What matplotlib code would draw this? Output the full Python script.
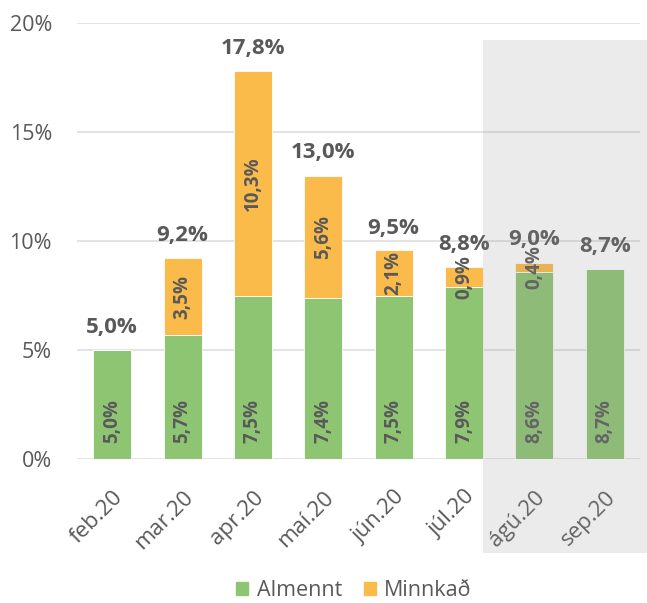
import numpy as np
import matplotlib.pyplot as plt
from matplotlib.patches import Rectangle, Patch

plt.rcParams['font.family'] = ['Open Sans', 'DejaVu Sans']

# gögn
months = ["feb.20", "mar.20", "apr.20", "maí.20", "jún.20", "júl.20", "ágú.20", "sep.20"]
almennt = [5.0, 5.7, 7.5, 7.4, 7.5, 7.9, 8.6, 8.7]
minnkad = [0.0, 3.5, 10.3, 5.6, 2.1, 0.9, 0.4, 0.0]
totals = [5.0, 9.2, 17.8, 13.0, 9.5, 8.8, 9.0, 8.7]

green = "#8DC572"
orange = "#FBBB4B"
txt = "#595959"

def pct(v):
    return ("%.1f%%" % v).replace(".", ",")

fig = plt.figure(figsize=(6.47, 6.03), dpi=100)
ax = fig.add_axes([77 / 647, 1 - 459 / 603, (640 - 77) / 647, (459 - 23) / 603])

x = np.arange(len(months))
w = 0.54
ax.bar(x, almennt, w, color=green, edgecolor="white", linewidth=0.6, zorder=3)
ax.bar(x, minnkad, w, bottom=almennt, color=orange, edgecolor="white", linewidth=0.6, zorder=3)

for i in range(len(months)):
    ax.text(x[i], 0.75, pct(almennt[i]), rotation=90, ha="center", va="bottom",
            fontsize=13.5, fontweight="bold", color=txt, zorder=4)
    if minnkad[i] > 0:
        ax.text(x[i], almennt[i] + minnkad[i] / 2, pct(minnkad[i]), rotation=90,
                ha="center", va="center", fontsize=13.5, fontweight="bold", color=txt, zorder=4)
    ax.text(x[i], totals[i] + 0.8, pct(totals[i]), ha="center", va="baseline",
            fontsize=16, fontweight="bold", color=txt, zorder=4)

ax.set_xlim(-0.5, 7.5)
ax.set_ylim(0, 20)
ax.set_yticks([0, 5, 10, 15, 20])
ax.set_yticklabels(["0%", "5%", "10%", "15%", "20%"])
ax.set_xticks(x)
ax.set_xticklabels(months, rotation=45, ha="right", rotation_mode="anchor")
ax.tick_params(axis="y", length=0, pad=18, labelsize=15.5, labelcolor=txt)
ax.tick_params(axis="x", length=0, pad=20, labelsize=16, labelcolor=txt)
ax.grid(axis="y", color="#E0E0E0", linewidth=1.3, zorder=0)
for s in ax.spines.values():
    s.set_visible(False)

# skyggt svæði
fig.patches.append(Rectangle((483 / 647, 1 - 553 / 603), (647 - 483) / 647, (553 - 40) / 603,
                             transform=fig.transFigure, facecolor="#959595", alpha=0.19,
                             edgecolor="none", zorder=10))

handles = [Patch(color=green, label="Almennt"), Patch(color=orange, label="Minnkað")]
fig.legend(handles=handles, loc="center", bbox_to_anchor=(354 / 647, 1 - 591 / 603), ncol=2,
           frameon=False, fontsize=15.5, labelcolor=txt, handlelength=0.56, handleheight=0.56,
           handletextpad=0.4, columnspacing=1.0)

fig.savefig("out.png", dpi=100)
